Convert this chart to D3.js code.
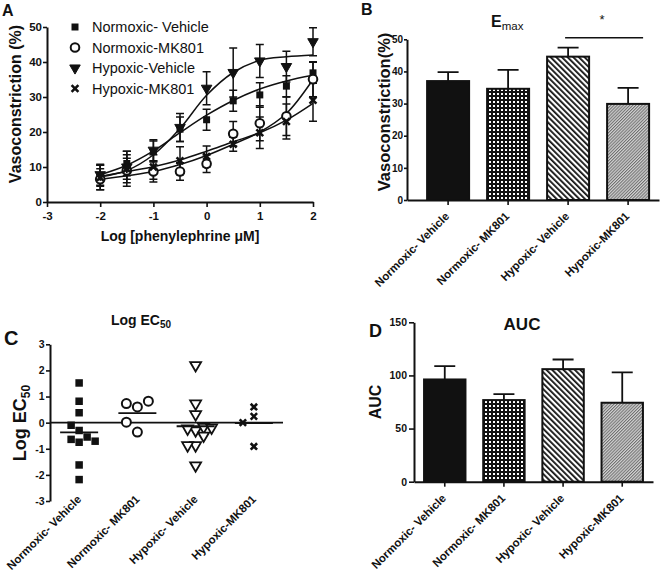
<!DOCTYPE html>
<html><head><meta charset="utf-8">
<script src="https://cdn.jsdelivr.net/npm/d3@7"></script>
<style>body{margin:0;background:#fff} svg{display:block} text{font-family:Arial,"Liberation Sans",sans-serif;fill:#111}</style>
</head><body><svg id="c" width="660" height="576"></svg>
<script>
// ---------------- data ----------------
const groups = ["Normoxic- Vehicle","Normoxic- MK801","Hypoxic- Vehicle","Hypoxic-MK801"];
const legendLabels = ["Normoxic- Vehicle","Normoxic-MK801","Hypoxic-Vehicle","Hypoxic-MK801"];
const logDose = [-2,-1.5,-1,-0.5,0,0.5,1,1.5,2];
const xTicksA = [-3,-2,-1,0,1,2];
const yTicksA = [0,10,20,30,40,50];
// concentration-response means (%) and SEM
const nvMean = [7.5,11,14.4,20.8,23.5,28.9,30.6,33.1,36.9];
const nvErr  = [3,3.5,3,3.5,3,3,3.5,3,3];
const nmMean = [6.5,9,8.7,8.7,10.9,19.5,22.5,24.5,35.1];
const nmErr  = [3,3.5,3,2.5,2.5,3.5,5,5.5,5];
const hvMean = [7.8,10,14.8,21.3,32.5,37,40.3,38.7,45.8];
const hvErr  = [3,3.5,3,4,4.7,7,4.7,4.4,4];
const hmMean = [7,9.5,10,11.8,13,16.5,19.8,23,29.1];
const hmErr  = [3.5,5,3.5,4,3,2,4.5,5,6];
// fitted curves read at the same doses
const nvFit = [7.8,10.5,14.6,19.8,24.8,29,32.3,34.6,36.2];
const nmFit = [6.5,7.5,8.7,10.7,13.3,16.5,20,25.3,35];
const hvFit = [7.2,9,13.5,21,30.5,37,40.5,41.5,42];
const hmFit = [7.3,8.7,10.1,12,14.5,17.2,19.8,23.4,28.2];
// Emax
const emaxMean = [37,34.6,44.6,29.9];
const emaxErr  = [2.8,5.9,2.8,5];
const yTicksB = [0,10,20,30,40,50];
// Log EC50 individual values
const nvEC50 = [1.52,0.82,0.38,-0.3,-0.1,-0.75,-0.64,-0.55,-0.71,-1.62,-2.18];
const nmEC50 = [0.6,0.73,0.82,-0.36,0.02];
const hvEC50 = [2.2,0.73,0.32,-0.3,-0.23,-0.17,-0.19,-0.5,-0.87,-0.87,-1.64];
const hmEC50 = [0.24,0.6,0.0,-0.91];
const yTicksC = [-3,-2,-1,0,1,2,3];
// AUC
const aucMean = [96.2,76.8,105.9,74.3];
const aucErr  = [12.5,5.6,9.1,28.5];
const yTicksD = [0,50,100,150];

// ---------------- setup ----------------
const svg = d3.select("#c");
svg.append("rect").attr("width",660).attr("height",576).attr("fill","#fff");
const defs = svg.append("defs");
const pChk = defs.append("pattern").attr("id","chk").attr("patternUnits","userSpaceOnUse").attr("width",4).attr("height",4);
pChk.append("rect").attr("width",4).attr("height",4).attr("fill","#111");
pChk.append("rect").attr("x",1).attr("y",1).attr("width",2).attr("height",2).attr("fill","#fff");
const pHv = defs.append("pattern").attr("id","hatchHV").attr("patternUnits","userSpaceOnUse").attr("width",4).attr("height",4).attr("patternTransform","rotate(-45)");
pHv.append("rect").attr("width",4).attr("height",4).attr("fill","#fff");
pHv.append("rect").attr("width",1.8).attr("height",4).attr("fill","#111");
const pHm = defs.append("pattern").attr("id","hatchHM").attr("patternUnits","userSpaceOnUse").attr("width",2.2).attr("height",2.2).attr("patternTransform","rotate(45)");
pHm.append("rect").attr("width",2.2).attr("height",2.2).attr("fill","#d2d2d2");
pHm.append("rect").attr("width",1).attr("height",2.2).attr("fill","#6e6e6e");
const fills = ["#111","url(#chk)","url(#hatchHV)","url(#hatchHM)"];
const markerTypes = ["square","circle","triangle","times"];

function styleAxis(g, fs){
  g.select(".domain").attr("stroke","#111").attr("stroke-width",2);
  g.selectAll(".tick line").attr("stroke","#111").attr("stroke-width",1.6);
  g.selectAll(".tick text").attr("fill","#111").style("font-size",fs+"px").style("font-weight","bold").style("font-family","Arial,'Liberation Sans',sans-serif");
}
function drawMarker(g, type, x, y, opts){
  const o = Object.assign({sq:7, r:4.3, tri:40, tx:3.4, open:false}, opts||{});
  if(type==="square"){
    g.append("path").attr("d",d3.symbol(d3.symbolSquare, o.sq*o.sq)()).attr("transform",`translate(${x},${y})`).attr("fill","#111");
  } else if(type==="circle"){
    g.append("circle").attr("cx",x).attr("cy",y).attr("r",o.r).attr("fill","#fff").attr("stroke","#111").attr("stroke-width",2);
  } else if(type==="triangle"){
    g.append("path").attr("d",d3.symbol(d3.symbolTriangle, o.tri)()).attr("transform",`translate(${x},${y}) rotate(180)`)
      .attr("fill",o.open?"#fff":"#111").attr("stroke","#111").attr("stroke-width",o.open?1.8:1);
  } else {
    const s=o.tx;
    g.append("path").attr("d",`M${x-s},${y-s}L${x+s},${y+s}M${x-s},${y+s}L${x+s},${y-s}`).attr("stroke","#111").attr("stroke-width",2.6).attr("fill","none");
  }
}
function rotLabels(g, scale, labels, y, dx, fs){
  labels.forEach(l=>{
    g.append("text").attr("transform",`translate(${scale(l)+dx},${y}) rotate(-45)`)
      .attr("text-anchor","end").style("font-size",fs+"px").style("font-weight","bold").text(l);
  });
}

// ---------------- Panel A ----------------
const xA = d3.scaleLinear().domain([-3,2]).range([47,313]);
const yA = d3.scaleLinear().domain([0,50]).range([202,27]);
const gA = svg.append("g");
const axA1 = gA.append("g").attr("transform","translate(0,202)")
  .call(d3.axisBottom(xA).tickValues(xTicksA).tickFormat(d=>String(d)).tickSize(5).tickSizeOuter(0).tickPadding(5));
styleAxis(axA1, 11.5);
const axA2 = gA.append("g").attr("transform","translate(47,0)")
  .call(d3.axisLeft(yA).tickValues(yTicksA).tickFormat(d=>String(d)).tickSize(4).tickSizeOuter(0).tickPadding(1));
styleAxis(axA2, 11.5);
gA.append("text").attr("x",180).attr("y",241).attr("text-anchor","middle").style("font-size","14px").style("font-weight","bold").text("Log [phenylephrine μM]");
gA.append("text").attr("transform","translate(21,104) rotate(-90)").attr("text-anchor","middle").style("font-size","16px").style("font-weight","bold").text("Vasoconstriction (%)");
gA.append("text").attr("x",2).attr("y",16).style("font-size","16px").style("font-weight","bold").text("A");

const seriesA = [
  {mean:nvMean, err:nvErr, fit:nvFit, type:"square"},
  {mean:nmMean, err:nmErr, fit:nmFit, type:"circle"},
  {mean:hvMean, err:hvErr, fit:hvFit, type:"triangle"},
  {mean:hmMean, err:hmErr, fit:hmFit, type:"times"}
];
const lineA = d3.line().x((d,i)=>xA(logDose[i])).y(d=>yA(d)).curve(d3.curveCatmullRom);
seriesA.forEach(s=>{
  gA.append("path").attr("d",lineA(s.fit)).attr("fill","none").attr("stroke","#111").attr("stroke-width",1.5);
});
seriesA.forEach(s=>{
  s.mean.forEach((m,i)=>{
    const x=xA(logDose[i]), y1=yA(m-s.err[i]), y2=yA(m+s.err[i]);
    gA.append("path").attr("d",`M${x},${y1}V${y2}M${x-4},${y1}H${x+4}M${x-4},${y2}H${x+4}`).attr("stroke","#111").attr("stroke-width",1.5).attr("fill","none");
  });
});
seriesA.forEach(s=>{
  s.mean.forEach((m,i)=> drawMarker(gA, s.type, xA(logDose[i]), yA(m), {tri:48}));
});
// legend
legendLabels.forEach((l,i)=>{
  const y = 27 + i*20.5;
  drawMarker(gA, markerTypes[i], 75, y, {tri:48});
  gA.append("text").attr("x",92).attr("y",y).attr("dy","0.35em").style("font-size","14.5px").text(l);
});

// ---------------- Panel B ----------------
const xB = d3.scaleBand().domain(groups).range([407,659]).paddingInner(0.3).paddingOuter(0.25).align(0.67);
const yB = d3.scaleLinear().domain([0,50]).range([200,39.3]);
const gB = svg.append("g");
gB.selectAll("rect.bar").data(groups).enter().append("rect")
  .attr("x",d=>xB(d)).attr("width",xB.bandwidth())
  .attr("y",(d,i)=>yB(emaxMean[i])).attr("height",(d,i)=>yB(0)-yB(emaxMean[i]))
  .attr("fill",(d,i)=>fills[i]).attr("stroke","#111").attr("stroke-width",2);
groups.forEach((g,i)=>{
  const x=xB(g)+xB.bandwidth()/2, y1=yB(emaxMean[i]), y2=yB(emaxMean[i]+emaxErr[i]);
  gB.append("path").attr("d",`M${x},${y1}V${y2}M${x-10.5},${y2}H${x+10.5}`).attr("stroke","#111").attr("stroke-width",1.8).attr("fill","none");
});
const axB1 = gB.append("g").attr("transform","translate(0,200)").call(d3.axisBottom(xB).tickSize(5).tickSizeOuter(0).tickFormat(""));
styleAxis(axB1, 10);
const axB2 = gB.append("g").attr("transform","translate(407,0)").call(d3.axisLeft(yB).tickValues(yTicksB).tickSize(3).tickSizeOuter(0).tickPadding(1));
styleAxis(axB2, 10);
rotLabels(gB, d=>xB(d)+xB.bandwidth()/2, groups, 217, 2, 11.5);
gB.append("text").attr("transform","translate(390,112) rotate(-90)").attr("text-anchor","middle").style("font-size","16.5px").style("font-weight","bold").text("Vasoconstriction(%)");
gB.append("text").attr("x",361).attr("y",15).style("font-size","16px").style("font-weight","bold").text("B");
const tB = gB.append("text").attr("x",491).attr("y",27).style("font-size","16px").style("font-weight","bold");
tB.append("tspan").text("E");
tB.append("tspan").attr("dy",3).style("font-size","11.5px").style("font-weight","normal").text("max");
gB.append("path").attr("d",`M${xB(groups[2])+xB.bandwidth()/2-3},37.7H${xB(groups[3])+xB.bandwidth()/2+15}`).attr("stroke","#111").attr("stroke-width",1.6);
gB.append("text").attr("x",602).attr("y",24).attr("text-anchor","middle").style("font-size","13px").text("*");

// ---------------- Panel C ----------------
const xC = d3.scalePoint().domain(groups).range([50,283]).padding(0.5);
const yC = d3.scaleLinear().domain([-3,3]).range([501,344.3]);
const gC = svg.append("g");
const axC2 = gC.append("g").attr("transform","translate(50,0)").call(d3.axisLeft(yC).tickValues(yTicksC).tickFormat(d=>String(d)).tickSize(4).tickSizeOuter(0).tickPadding(1.5));
styleAxis(axC2, 10.5);
gC.append("path").attr("d",`M50,${yC(0)}H283`).attr("stroke","#111").attr("stroke-width",1.6);
const ec50Sets = [nvEC50, nmEC50, hvEC50, hmEC50];
ec50Sets.forEach((vals,gi)=>{
  const cx = xC(groups[gi]);
  const type = markerTypes[gi];
  const w = type==="circle"?11:(type==="times"?11:8);
  const thr = type==="circle"?10:8.5;
  const placed = [];
  const order=[0,-1,1,2,-2,3,-3];
  vals.forEach(v=>{
    const py=yC(v);
    let slot=0;
    for(const s of order){ if(!placed.some(p=>p.s===s && Math.abs(p.y-py)<thr)){slot=s;break;} }
    placed.push({s:slot,y:py});
    drawMarker(gC, type, cx+slot*w, py, {sq:7.5, r:4.5, tri:52, open:true, tx:3.2});
  });
  const m = d3.mean(vals);
  gC.append("path").attr("d",`M${cx-19},${yC(m)}H${cx+19}`).attr("stroke","#111").attr("stroke-width",1.8);
});
rotLabels(gC, xC, groups, 500, 3, 11.5);
gC.append("text").attr("transform","translate(26,423) rotate(-90)").attr("text-anchor","middle").style("font-size","18px").style("font-weight","bold")
  .call(t=>{t.append("tspan").text("Log EC"); t.append("tspan").attr("dy",4).style("font-size","12px").text("50");});
gC.append("text").attr("x",141).attr("y",325).attr("text-anchor","middle").style("font-size","14px").style("font-weight","bold")
  .call(t=>{t.append("tspan").text("Log EC"); t.append("tspan").attr("dy",3).style("font-size","10px").text("50");});
gC.append("text").attr("x",4).attr("y",345).style("font-size","20px").style("font-weight","bold").text("C");

// ---------------- Panel D ----------------
const xD = d3.scaleBand().domain(groups).range([414,653]).paddingInner(0.3).paddingOuter(0.17);
const yD = d3.scaleLinear().domain([0,150]).range([481.7,322.3]);
const gD = svg.append("g");
gD.selectAll("rect.bar").data(groups).enter().append("rect")
  .attr("x",d=>xD(d)).attr("width",xD.bandwidth())
  .attr("y",(d,i)=>yD(aucMean[i])).attr("height",(d,i)=>yD(0)-yD(aucMean[i]))
  .attr("fill",(d,i)=>fills[i]).attr("stroke","#111").attr("stroke-width",2);
groups.forEach((g,i)=>{
  const x=xD(g)+xD.bandwidth()/2, y1=yD(aucMean[i]), y2=yD(aucMean[i]+aucErr[i]);
  gD.append("path").attr("d",`M${x},${y1}V${y2}M${x-10.5},${y2}H${x+10.5}`).attr("stroke","#111").attr("stroke-width",1.8).attr("fill","none");
});
const axD1 = gD.append("g").attr("transform","translate(0,481.7)").call(d3.axisBottom(xD).tickSize(5).tickSizeOuter(0).tickFormat(""));
styleAxis(axD1, 10);
const axD2 = gD.append("g").attr("transform","translate(414,0)").call(d3.axisLeft(yD).tickValues(yTicksD).tickSize(5).tickSizeOuter(0).tickPadding(2));
styleAxis(axD2, 10.5);
rotLabels(gD, d=>xD(d)+xD.bandwidth()/2, groups, 499, 2, 11.5);
gD.append("text").attr("transform","translate(381,402) rotate(-90)").attr("text-anchor","middle").style("font-size","16px").style("font-weight","bold").text("AUC");
gD.append("text").attr("x",522).attr("y",330).attr("text-anchor","middle").style("font-size","17px").style("font-weight","bold").text("AUC");
gD.append("text").attr("x",369).attr("y",337).style("font-size","18px").style("font-weight","bold").text("D");
</script></body></html>
